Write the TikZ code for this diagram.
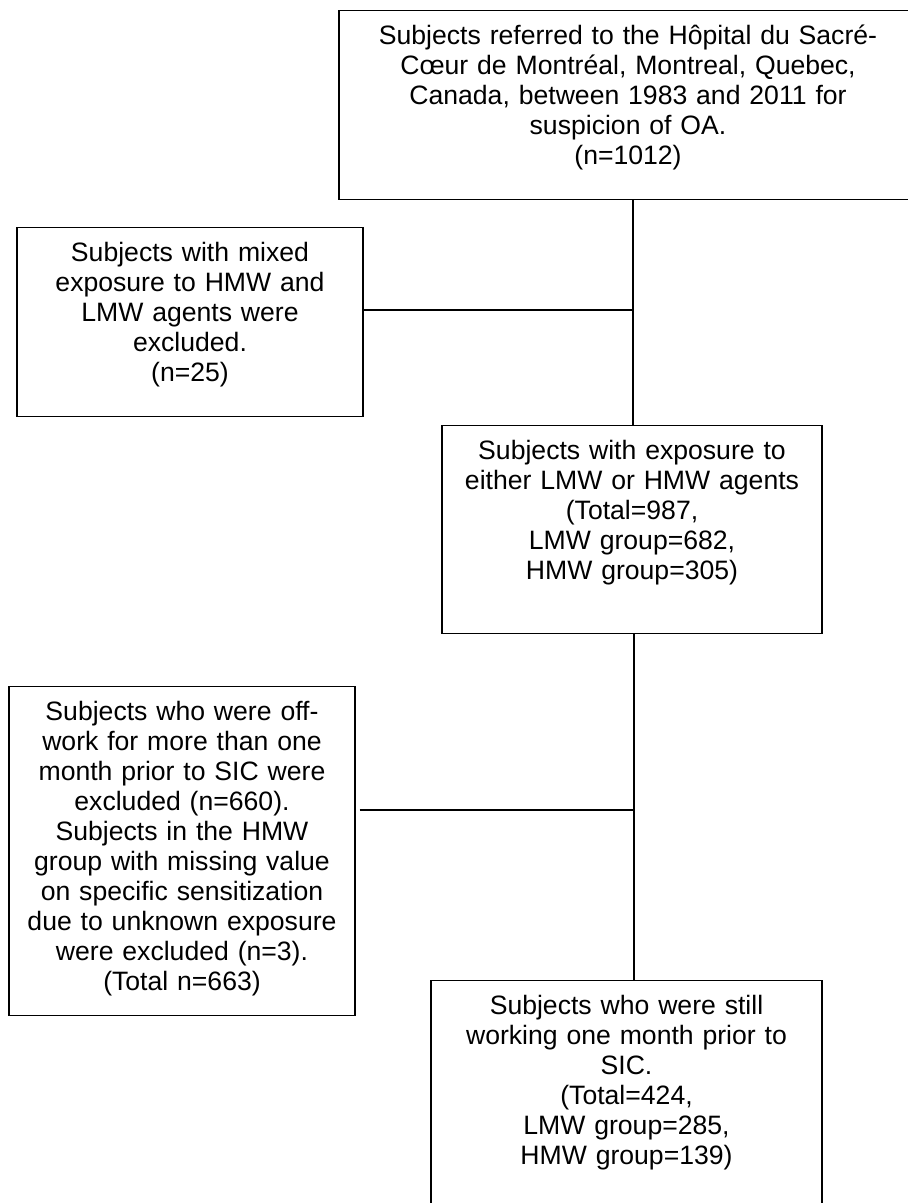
\documentclass[tikz,border=0pt]{standalone}
\usepackage{fontspec}
\setmainfont{Liberation Sans}
\usetikzlibrary{calc}
\tikzset{flowbox/.style={draw,line width=0.6pt,inner sep=0pt,anchor=north,
    align=center,text height=17pt,font=\fontsize{13.3}{15}\selectfont}}

\begin{document}
\begin{tikzpicture}[x=0.5pt,y=-0.5pt,line width=0.6pt]
        \useasboundingbox (0,0) rectangle (908,1203);
        \clip (0,0) rectangle (908,1203);
        \node[flowbox,text width=289pt,text depth=77.5pt] (ref) at (628,10)
            {Subjects referred to the Hôpital du Sacré-\\Cœur de Montréal, Montreal, Quebec,\\Canada, between 1983 and 2011 for\\suspicion of OA.\\(n=1012)};
        \node[flowbox,text width=173pt,text depth=77.5pt] (mixed) at (190,227)
            {Subjects with mixed\\exposure to HMW and\\LMW agents were\\excluded.\\(n=25)};
        \node[flowbox,text width=190pt,text depth=87pt] (expo) at (632,425)
            {Subjects with exposure to\\either LMW or HMW agents\\(Total=987,\\LMW group=682,\\HMW group=305)};
        \node[flowbox,text width=173pt,text depth=147.5pt] (offwork) at (182,686)
            {Subjects who were off-\\work for more than one\\month prior to SIC were\\excluded (n=660).\\Subjects in the HMW\\group with missing value\\on specific sensitization\\due to unknown exposure\\were excluded (n=3).\\(Total n=663)};
        \node[flowbox,text width=195.5pt,text depth=100.5pt] (still) at (626.5,980)
            {Subjects who were still\\working one month prior to\\SIC.\\(Total=424,\\LMW group=285,\\HMW group=139)};
        \coordinate (j1) at (633,310);
        \coordinate (j2) at (634,810);
        \draw (j1 |- ref.south) -- (j1 |- expo.north);
        \draw (mixed.east |- j1) -- (j1);
        \draw (j2 |- expo.south) -- (j2 |- still.north);
        \draw ([xshift=2pt]offwork.east |- j2) -- (j2);
    \end{tikzpicture}
\end{document}
